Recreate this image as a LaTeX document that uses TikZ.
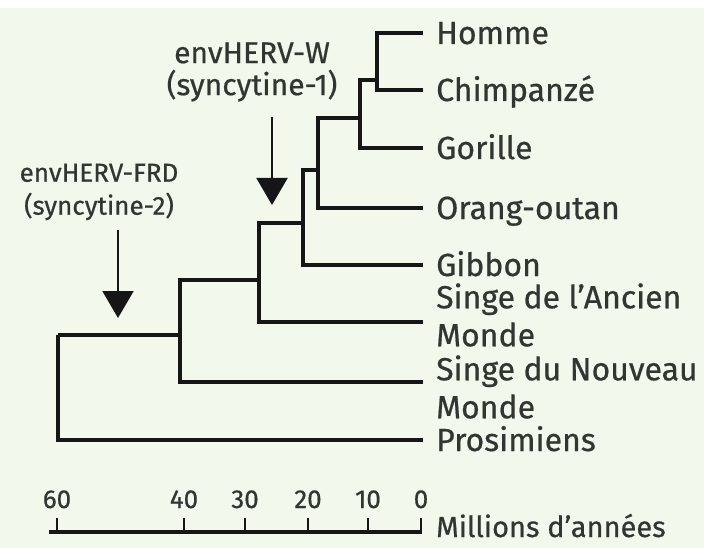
\documentclass[tikz,border=0pt]{standalone}
\usepackage{fontspec}
\setmainfont{Fira Sans}[FakeBold=0.6]
\usetikzlibrary{arrows.meta,positioning}
\definecolor{paper}{RGB}{243,248,236}
\definecolor{ink}{RGB}{50,54,50}
\definecolor{branchblack}{RGB}{22,22,22}

\begin{document}
\begin{tikzpicture}[x=1pt,y=-1pt,
    branch/.style={draw=branchblack, line width=4.5pt},
    taxon/.style={anchor=west, inner xsep=13pt, inner ysep=0pt, text=ink,
      font=\fontsize{32}{38}\selectfont, text height=22pt, text depth=0pt},
    taxontwo/.style={anchor=west, inner xsep=13pt, inner ysep=0pt, text=ink,
      font=\fontsize{32}{38}\selectfont, align=left},
    gene/.style={text=ink, font=\fontsize{26}{33}\selectfont, align=center, inner sep=0pt},
    insertion/.style={draw=branchblack, line width=2pt, -{Triangle[width=31pt,length=27pt]}},
    axisline/.style={draw=branchblack, line width=3.5pt},
    axistick/.style={draw=branchblack, line width=2.5pt},
    agelabel/.style={text=ink, font=\fontsize{26}{26}\selectfont, anchor=base, inner sep=0pt},
    axisname/.style={text=ink, font=\fontsize{29}{29}\selectfont, anchor=base west, inner sep=0pt}]

  \fill[paper] (0,0) rectangle (704,548);
  \fill[white] (0,0) rectangle (704,8);
  \useasboundingbox (0,0) rectangle (704,548);

  \node[taxon] (homme) at (423,33) {Homme};
  \node[taxon] (chimp) at (423,90) {Chimpanzé};
  \node[taxon] (gorille) at (423,148) {Gorille};
  \node[taxon] (orang) at (423,208) {Orang-outan};
  \node[taxon] (gibbon) at (423,265) {Gibbon};
  \node[taxontwo] (ancien) at (423,315) {Singe de l'Ancien\\Monde};
  \node[taxontwo] (nouveau) at (423,387) {Singe du Nouveau\\Monde};
  \node[taxon] (prosim) at (423,440) {Prosimiens};

  \coordinate (hc) at (377,80);
  \coordinate (hcg) at (360,118);
  \coordinate (hcgo) at (318,170);
  \coordinate (hominoid) at (303,223);
  \coordinate (catarrhin) at (259,280);
  \coordinate (simian) at (180,335);
  \coordinate (primate) at (58,335);

  \draw[branch] (hc) |- (homme.west);
  \draw[branch] (hc) |- (chimp.west);
  \draw[branch] (hcg) |- (hc);
  \draw[branch] (hcg) |- (gorille.west);
  \draw[branch] (hcgo) |- (hcg);
  \draw[branch] (hcgo) |- (orang.west);
  \draw[branch] (hominoid) |- (hcgo);
  \draw[branch] (hominoid) |- (gibbon.west);
  \draw[branch] (catarrhin) |- (hominoid);
  \draw[branch] (catarrhin) |- ([yshift=-7pt]ancien.west);
  \draw[branch] (simian) |- (catarrhin);
  \draw[branch] (simian) |- ([yshift=5pt]nouveau.west);
  \draw[branch] (primate) -- (simian);
  \draw[branch] (primate) |- (prosim.west);

  \node[gene, font=\fontsize{30}{32}\selectfont] (herw) at (252,72) {envHERV-W\\(syncytine-1)};
  \node[gene] (herfrd) at (99,192) {envHERV-FRD\\(syncytine-2)};
  \coordinate (wtop) at (272,117);
  \coordinate (wtip) at (272,205);
  \coordinate (frdtop) at (118,230);
  \coordinate (frdtip) at (118,318);
  \draw[insertion] (wtop) -- (wtip);
  \draw[insertion] (frdtop) -- (frdtip);

  \coordinate (axstart) at (49,532);
  \coordinate (axend) at (422,532);
  \draw[axisline] (axstart) -- (axend);
  \foreach \yr/\px in {60/57,40/184,30/245,20/308,10/368,0/421}{
    \coordinate (tk\yr) at (\px,532);
    \draw[axistick] (tk\yr) -- ++(0,-14);
    \node[agelabel] (age\yr) at (\px,508) {\yr};
  }
  \node[axisname] (myr) at (436,537) {Millions d'années};
\end{tikzpicture}
\end{document}
